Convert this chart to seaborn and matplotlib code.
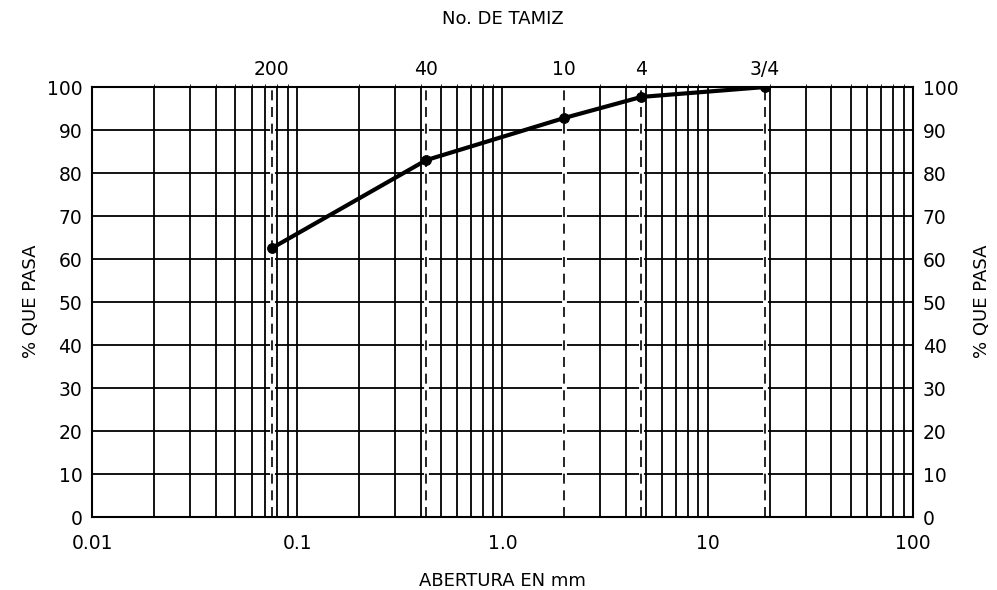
import numpy as np
import pandas as pd
import matplotlib
matplotlib.use('Agg')
import matplotlib.pyplot as plt
import seaborn as sns

# datos granulometricos
tamices = ['200', '40', '10', '4', '3/4']
abertura = [0.075, 0.425, 2.0, 4.75, 19.0]
pasa = [62.5, 83.0, 92.8, 97.7, 100.0]

xticks = [0.01, 0.1, 1.0, 10, 100]
xlabels = ['0.01', '0.1', '1.0', '10', '100']
yticks = list(range(0, 101, 10))

sns.set_style('white')
plt.rcParams['font.family'] = ['DejaVu Sans']
plt.rcParams['text.color'] = 'black'
plt.rcParams['xtick.color'] = 'black'
plt.rcParams['ytick.color'] = 'black'
plt.rcParams['axes.labelcolor'] = 'black'

df = pd.DataFrame({'abertura': abertura, 'pasa': pasa, 'tamiz': tamices})

fig = plt.figure(figsize=(9.97, 5.9), dpi=100)
ax = fig.add_axes([0.0923, 0.1237, 0.8234, 0.7288])

# rejilla logaritmica
for dec in [0.01, 0.1, 1, 10]:
    for k in range(1, 10):
        ax.axvline(dec * k, color='black', lw=1.3, zorder=1)
for y in yticks:
    ax.axhline(y, color='black', lw=1.3, zorder=1)

# lineas de tamices
for a in abertura:
    ax.axvline(a, color='white', lw=3.5, zorder=1.5)
    ax.axvline(a, color='black', lw=1.2, ls=(0, (6, 4)), zorder=2)

sns.lineplot(data=df, x='abertura', y='pasa', ax=ax, color='black', lw=3,
             marker='o', markersize=7, markeredgecolor='black', zorder=3)

ax.set_xscale('log')
ax.set_xlim(0.01, 100)
ax.set_ylim(0, 100)
ax.set_xticks(xticks)
ax.set_xticklabels(xlabels)
ax.minorticks_off()
ax.set_yticks(yticks)
ax.tick_params(axis='x', length=0, labelsize=13.5, pad=12)
ax.tick_params(axis='y', length=0, labelsize=13.5, pad=7,
               labelright=True, labelleft=True)
for s in ax.spines.values():
    s.set_color('black')
    s.set_linewidth(1.5)

ax.set_xlabel('ABERTURA EN mm', fontsize=13, labelpad=14)
ax.set_ylabel('')

# etiquetas laterales
fig.text(0.031, 0.49, '% QUE PASA', fontsize=13, rotation=90,
         ha='center', va='center')
fig.text(0.985, 0.49, '% QUE PASA', fontsize=13, rotation=90,
         ha='center', va='center')

# etiquetas de tamiz arriba
sec = ax.secondary_xaxis('top')
sec.set_xticks(abertura)
sec.set_xticklabels(tamices)
sec.tick_params(length=0, labelsize=13.5, pad=6)
sec.spines['top'].set_visible(False)
sec.set_xlabel('No. DE TAMIZ', fontsize=13, labelpad=26)

fig.savefig('out.png', dpi=100)
